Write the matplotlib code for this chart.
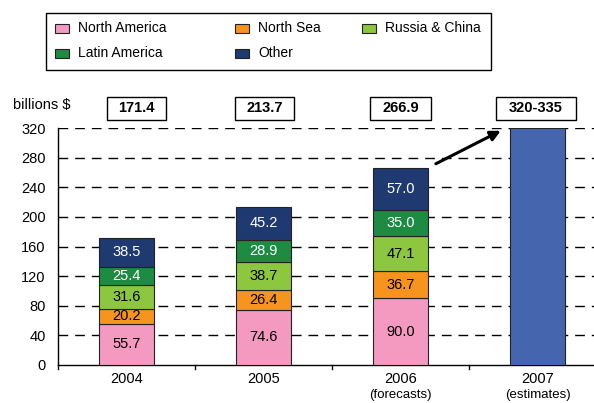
import matplotlib
matplotlib.use("Agg")
import matplotlib.pyplot as plt
from matplotlib.patches import Rectangle
import numpy as np

plt.rcParams['font.family'] = ['Liberation Sans', 'DejaVu Sans']

years = ["2004", "2005", "2006", "2007"]
sublabels = ["", "", "(forecasts)", "(estimates)"]
series_names = ["North America", "North Sea", "Russia & China", "Latin America", "Other"]
north_america = [55.7, 74.6, 90.0]
north_sea = [20.2, 26.4, 36.7]
russia_china = [31.6, 38.7, 47.1]
latin_america = [25.4, 28.9, 35.0]
other = [38.5, 45.2, 57.0]
estimate_2007 = 320
totals = ["171.4", "213.7", "266.9", "320-335"]
yticks = [0, 40, 80, 120, 160, 200, 240, 280, 320]

colors = ["#F49AC1", "#F7941D", "#8DC63F", "#1E8B43", "#1F3A70"]
text_colors = ["black", "black", "black", "white", "white"]
est_color = "#4565AE"

W, H = 594, 403
fig = plt.figure(figsize=(W / 100, H / 100), dpi=100)
ax = fig.add_axes([58 / W, (H - 365) / H, (W - 58) / W, (365 - 128) / H])

x = np.arange(len(years))
bw = 0.40
series = [north_america, north_sea, russia_china, latin_america, other]
bottom = np.zeros(3)
for vals, col, tc in zip(series, colors, text_colors):
    vals = np.array(vals)
    ax.bar(x[:3], vals, bw, bottom=bottom, color=col, edgecolor="#222222", linewidth=0.8, zorder=3)
    for xi, b, v in zip(x[:3], bottom, vals):
        ax.text(xi, b + v / 2, f"{v:.1f}", ha="center", va="center", fontsize=10.5, color=tc, zorder=4)
    bottom += vals
ax.bar(x[3], estimate_2007, bw, color=est_color, edgecolor="#222222", linewidth=0.8, zorder=3)

ax.set_xlim(-0.5, -0.5 + (W - 58) / 137)
ax.set_ylim(0, 320)
ax.set_yticks(yticks)
ax.set_yticklabels([str(t) for t in yticks], fontsize=10.5)
for t in yticks[1:]:
    ax.axhline(t, color="black", linestyle=(0, (7, 5)), linewidth=1.0, zorder=1)

ax.set_xticks(x)
ax.set_xticklabels(years, fontsize=10.5)
ax.tick_params(axis="x", length=0, pad=5)
ax.tick_params(axis="y", length=0, pad=9)
for b in [-0.5, 0.5, 1.5, 2.5]:
    ax.plot([b, b], [0, -6], color="black", linewidth=1.0, clip_on=False, zorder=5)
for xi, s in zip(x, sublabels):
    if s:
        ax.text(xi, -41, s, ha="center", va="center", fontsize=9.5)

for side in ["top", "right"]:
    ax.spines[side].set_visible(False)
ax.spines["left"].set_linewidth(1.0)
ax.spines["bottom"].set_linewidth(1.0)

# total boxes
box_w = [0.43, 0.43, 0.44, 0.58]
box_dx = [0.07, 0.01, 0.0, -0.01]
for xi, t, w, dx in zip(x, totals, box_w, box_dx):
    cx = xi + dx
    ax.add_patch(Rectangle((cx - w / 2, 331), w, 31, facecolor="white", edgecolor="black",
                           linewidth=1.0, clip_on=False, zorder=5))
    ax.text(cx, 346.5, t, ha="center", va="center", fontsize=10.5, fontweight="bold", clip_on=False, zorder=6)

fig.text(13 / W, 1 - 105 / H, "billions $", fontsize=10.5, ha="left", va="center")

ax.annotate("", xy=(2.75, 318), xytext=(2.24, 270),
            arrowprops=dict(arrowstyle="-|>", color="black", lw=2.2, mutation_scale=15),
            annotation_clip=False, zorder=6)

# legend
fig.patches.append(Rectangle((46 / W, 1 - 70 / H), (491 - 46) / W, (70 - 13) / H,
                             transform=fig.transFigure, facecolor="white", edgecolor="black", linewidth=1.0))
pos = [(55, 28), (235, 28), (362, 28), (55, 53), (235, 53)]
for (px, py), name, col in zip(pos, series_names, colors):
    fig.patches.append(Rectangle((px / W, 1 - (py + 4.5) / H), 14 / W, 9 / H, transform=fig.transFigure,
                                 facecolor=col, edgecolor="#222222", linewidth=0.8))
    fig.text((px + 23) / W, 1 - py / H, name, fontsize=10, ha="left", va="center")

fig.savefig("out.png", dpi=100)
